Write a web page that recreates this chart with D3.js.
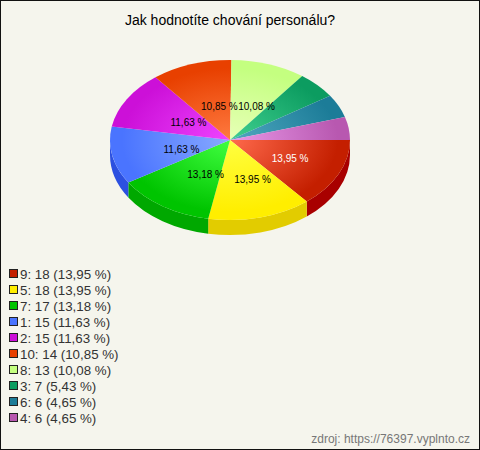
<!DOCTYPE html>
<html><head><meta charset="utf-8">
<script src="https://cdn.jsdelivr.net/npm/d3@7/dist/d3.min.js"></script>
<style>html,body{margin:0;padding:0;background:#f5f5ed}svg{display:block}text{font-family:"Liberation Sans",Arial,sans-serif}</style>
</head><body><div id="c"></div>
<script>
const categories=["9","5","7","1","2","10","8","3","6","4"];
const values=[18,18,17,15,15,14,13,7,6,6];
const percents=["13,95","13,95","13,18","11,63","11,63","10,85","10,08","5,43","4,65","4,65"];
const baseColors=["#c41f00","#ffee00","#00c400","#4a74ff","#cc10d8","#e84000","#c4ff80","#0c9c60","#1c7c98","#b858b0"];
const lightColors=["#ff6a4c","#ffff40","#40ff40","#88aaff","#ee44ff","#ff7a40","#e8ffb8","#40d090","#50a8c0","#e898e8"];
const sideColors=["#a80000","#e2cc00","#00a800","#2c50e0","#a808b0","#c03000","#a0d060","#087c48","#106080","#904088"];
const labelColors=["#fff","#000","#000","#000","#000","#000","#000"];
const W=480,H=450,cx=230,cy=140,rx=120,ry=80,depth=15;
const svg=d3.select("#c").append("svg").attr("width",W).attr("height",H);
const defs=svg.append("defs");
svg.append("rect").attr("x",.5).attr("y",.5).attr("width",W-1).attr("height",H-1).attr("fill","#f5f5ed").attr("stroke","#111");
svg.append("text").attr("x",230).attr("y",25).attr("text-anchor","middle").attr("font-size",14).attr("fill","#000").text("Jak hodnotíte chování personálu?");
const pie=d3.pie().sort(null).startAngle(Math.PI/2).endAngle(Math.PI*2.5)(values);
const px=a=>cx+rx*Math.sin(a), py=a=>cy-ry*Math.cos(a);
const walls=svg.append("g");
pie.forEach((d,i)=>{
  const a0=Math.max(d.startAngle,Math.PI/2),a1=Math.min(d.endAngle,Math.PI*1.5);
  if(a1<=a0)return;
  walls.append("path").attr("fill",sideColors[i]).attr("d",
    `M${px(a0)},${py(a0)}A${rx},${ry} 0 0 1 ${px(a1)},${py(a1)}L${px(a1)},${py(a1)+depth}A${rx},${ry} 0 0 0 ${px(a0)},${py(a0)+depth}Z`);
});
const arc=d3.arc().innerRadius(0).outerRadius(rx);
const face=svg.append("g").attr("transform",`translate(${cx},${cy}) scale(1,${ry/rx})`);
pie.forEach((d,i)=>{
  const g=defs.append("radialGradient").attr("id","g"+i).attr("gradientUnits","userSpaceOnUse")
    .attr("cx",0).attr("cy",0).attr("r",rx);
  g.append("stop").attr("offset",0).attr("stop-color",lightColors[i]);
  g.append("stop").attr("offset",.9).attr("stop-color",baseColors[i]);
  face.append("path").attr("d",arc(d)).attr("fill",`url(#g${i})`);
});
const labelArc=d3.arc().innerRadius(0).outerRadius(2*.48*rx);
pie.slice(0,labelColors.length).forEach((d,i)=>{
  const [x,y]=labelArc.centroid(d);
  svg.append("text").attr("x",cx+x+8).attr("y",cy+y*ry/rx+6).attr("text-anchor","middle")
    .attr("font-size",10).attr("fill",labelColors[i]).text(percents[i]+" %");
});
const ly=d3.scalePoint().domain(categories).range([274,418]);
const leg=svg.append("g");
categories.forEach((c,i)=>{
  const y=ly(c);
  leg.append("rect").attr("x",9.5).attr("y",y-4.5).attr("width",8).attr("height",8).attr("fill",baseColors[i]).attr("stroke","#222");
  leg.append("text").attr("x",20).attr("y",y+5).attr("font-size",13.33).attr("fill","#333").text(`${c}: ${values[i]} (${percents[i]} %)`);
});
svg.append("text").attr("x",470).attr("y",443).attr("text-anchor","end").attr("font-size",12).attr("fill","#777").text("zdroj: https://76397.vyplnto.cz");
</script></body></html>
